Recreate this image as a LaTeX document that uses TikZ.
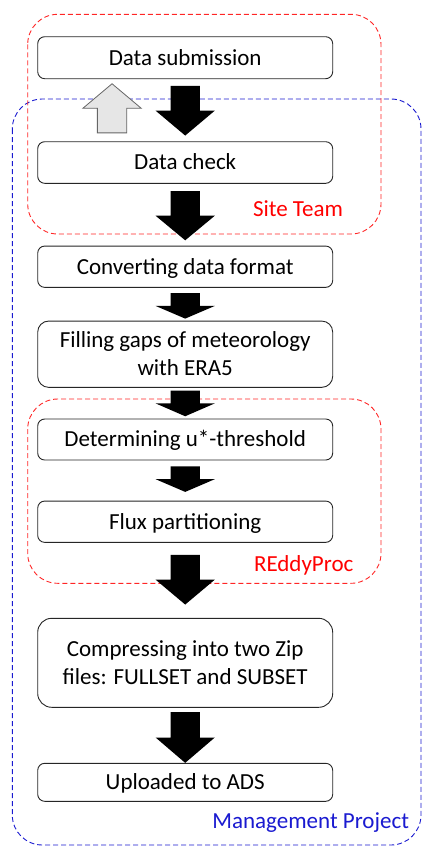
\documentclass[tikz,border=0pt]{standalone}
\usepackage{fontspec}
\setmainfont{Carlito}
\usetikzlibrary{calc}

\definecolor{teamred}{HTML}{FF0000}
\definecolor{frameblue}{HTML}{1A1AD0}
\definecolor{arrowgray}{HTML}{E6E6E6}

\tikzset{
  stepbox/.style={draw=black!85, line width=0.9pt, fill=white,
    minimum width=295pt, inner sep=0pt, align=center,
    text height=14.8pt, text depth=0pt,
    font=\fontsize{23}{27.7}\selectfont},
  twoline/.style={text height=42.5pt},
  groupframe/.style={dashed, dash pattern=on 5pt off 3pt, line width=0.9pt,
    rounded corners=30pt},
  grouplabel/.style={inner sep=0pt, text height=14.8pt, text depth=0pt,
    font=\fontsize{23}{27.7}\selectfont}
}

% solid down block arrow from one box to the next, with gaps at both ends
\newcommand\blockarrow[4]{%
  \fill[black] let \p1=($(#1.south)+(0,#3)$), \p2=($(#2.north)+(0,-#4)$),
      \n1={(\y1+\y2)/2} in
    (\x1-14.7pt,\y1) -- (\x1+14.7pt,\y1) -- (\x1+14.7pt,\n1)
    -- (\x1+29.6pt,\n1) -- (\x1,\y2) -- (\x1-29.6pt,\n1)
    -- (\x1-14.7pt,\n1) -- cycle;
}

\begin{document}
\begin{tikzpicture}[x=1pt, y=-1pt]
  \useasboundingbox (0,0) rectangle (422,847);

  % group frames
  \draw[groupframe, frameblue] (12.3,99) rectangle (421,845);
  \draw[groupframe, teamred!85] (27.7,14.3) rectangle (381,234);
  \draw[groupframe, teamred!85] (27.7,399) rectangle (381,583.3);

  % process steps
  \node[stepbox, minimum height=42pt, rounded corners=7pt] (sub) at (185.2,57.7) {Data submission};
  \node[stepbox, minimum height=41.6pt, rounded corners=7pt] (chk) at (185.2,162.5) {Data check};
  \node[stepbox, minimum height=41.3pt, rounded corners=7pt] (conv) at (185.2,266.7) {Converting data format};
  \node[stepbox, twoline, minimum height=66.3pt, rounded corners=11pt] (fill) at (185.2,354.2) {Filling gaps of meteorology\\with ERA5};
  \node[stepbox, minimum height=41pt, rounded corners=7pt] (ust) at (185.2,439.5) {Determining u*-threshold};
  \node[stepbox, minimum height=41.3pt, rounded corners=7pt] (flux) at (185.2,521.7) {Flux partitioning};
  \node[stepbox, twoline, minimum height=89pt, rounded corners=14pt] (zip) at (185.2,662.8) {Compressing into two Zip\\files: FULLSET and SUBSET};
  \node[stepbox, minimum height=38pt, rounded corners=7pt] (ads) at (185.2,782.3) {Uploaded to ADS};

  % flow arrows
  \blockarrow{sub}{chk}{6.6}{5.7}
  \blockarrow{chk}{conv}{7.4}{5.3}
  \blockarrow{conv}{fill}{5.4}{2}
  \blockarrow{fill}{ust}{2.7}{2.3}
  \blockarrow{ust}{flux}{6}{8.7}
  \blockarrow{flux}{zip}{12}{13.3}
  \blockarrow{zip}{ads}{4.4}{0}

  % feedback arrow from the check back to the submission
  \coordinate (fbbase) at ($(chk.north west)+(74.8,-8.4)$);
  \coordinate (fbtip) at ($(sub.south west)+(74.8,4.6)$);
  \draw[fill=arrowgray, draw=black!60, line width=0.8pt]
    let \p1=(fbbase), \p2=(fbtip), \n1={(\y1+\y2)/2} in
    (\x1-14.7pt,\y1) -- (\x1+14.7pt,\y1) -- (\x1+14.7pt,\n1)
    -- (\x1+29.2pt,\n1) -- (\x2,\y2) -- (\x1-29.2pt,\n1)
    -- (\x1-14.7pt,\n1) -- cycle;

  % group labels
  \node[grouplabel, text=teamred] (lblteam) at (298,208.8) {Site Team};
  \node[grouplabel, text=teamred] (lblreddy) at (303.7,563.8) {REddyProc};
  \node[grouplabel, text=frameblue] (lblmgmt) at (310.7,821.3) {Management Project};
\end{tikzpicture}
\end{document}
